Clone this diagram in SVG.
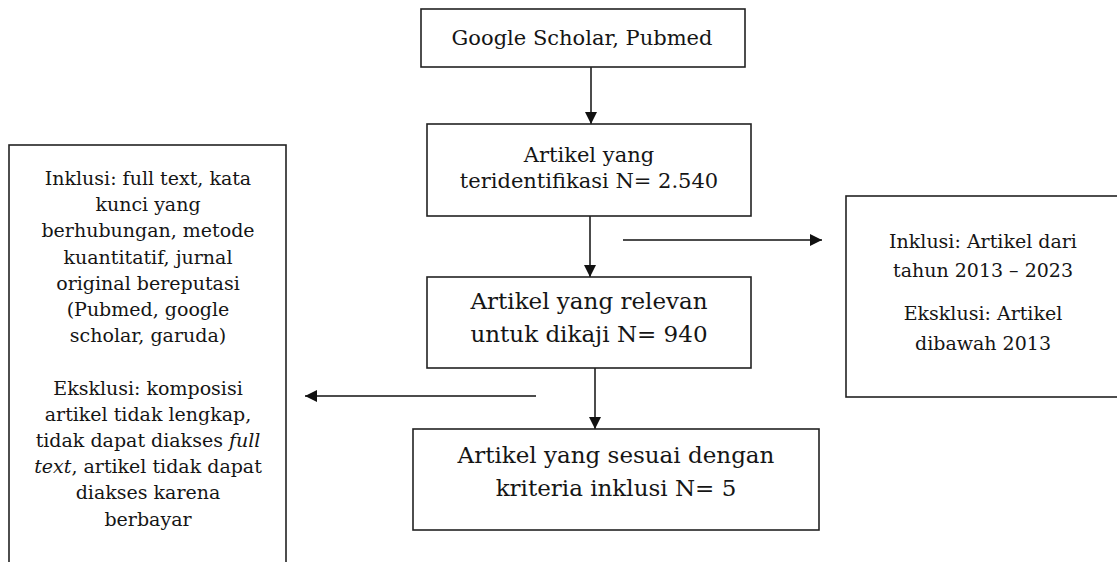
<svg xmlns="http://www.w3.org/2000/svg" width="1117" height="562" viewBox="0 0 1117 562">
<style>
.box{fill:#fff;stroke:#222;stroke-width:1.6}
.t{font-family:"DejaVu Serif","Liberation Serif",serif;fill:#151515;text-anchor:middle}
.s{font-size:19px}
.m{font-size:21px}
.l{font-size:23px}
.c{stroke:#111;stroke-width:1.5;fill:none;marker-end:url(#ah)}
</style>
<defs>
<marker id="ah" markerWidth="12" markerHeight="12" refX="12" refY="6" orient="auto" markerUnits="userSpaceOnUse">
<path d="M0,0 L12,6 L0,12 Z" fill="#111"/>
</marker>
</defs>
<rect width="1117" height="562" fill="#fff"/>
<g id="connectors">
<line class="c" x1="591" y1="67" x2="591" y2="124"/>
<line class="c" x1="590" y1="216" x2="590" y2="277"/>
<line class="c" x1="595" y1="368" x2="595" y2="429"/>
<line class="c" x1="623" y1="240" x2="822" y2="240"/>
<line class="c" x1="536" y1="396" x2="305" y2="396"/>
</g>
<g id="n1">
<rect class="box" x="421" y="9" width="324" height="58"/>
<text class="t m" x="582" y="45">Google Scholar, Pubmed</text>
</g>
<g id="n2">
<rect class="box" x="427" y="124" width="324" height="92"/>
<text class="t m" x="589" y="162">Artikel yang</text>
<text class="t m" x="589" y="188">teridentifikasi N= 2.540</text>
</g>
<g id="n3">
<rect class="box" x="427" y="277" width="324" height="91"/>
<text class="t l" x="589" y="309">Artikel yang relevan</text>
<text class="t l" x="589" y="342">untuk dikaji N= 940</text>
</g>
<g id="n4">
<rect class="box" x="413" y="429" width="406" height="101"/>
<text class="t l" x="616" y="463">Artikel yang sesuai dengan</text>
<text class="t l" x="616" y="496">kriteria inklusi N= 5</text>
</g>
<g id="n5">
<rect class="box" x="9" y="145" width="277" height="430"/>
<text class="t s" x="148" y="185">Inklusi: full text, kata</text>
<text class="t s" x="148" y="211">kunci yang</text>
<text class="t s" x="148" y="237">berhubungan, metode</text>
<text class="t s" x="148" y="264">kuantitatif, jurnal</text>
<text class="t s" x="148" y="290">original bereputasi</text>
<text class="t s" x="148" y="316">(Pubmed, google</text>
<text class="t s" x="148" y="342">scholar, garuda)</text>
<text class="t s" x="148" y="395">Eksklusi: komposisi</text>
<text class="t s" x="148" y="421">artikel tidak lengkap,</text>
<text class="t s" x="148" y="447">tidak dapat diakses <tspan font-style="italic">full</tspan></text>
<text class="t s" x="148" y="473"><tspan font-style="italic">text</tspan>, artikel tidak dapat</text>
<text class="t s" x="148" y="499">diakses karena</text>
<text class="t s" x="148" y="526">berbayar</text>
</g>
<g id="n6">
<rect class="box" x="846" y="196" width="290" height="201"/>
<text class="t s" x="983" y="248">Inklusi: Artikel dari</text>
<text class="t s" x="983" y="277">tahun 2013 – 2023</text>
<text class="t s" x="983" y="320">Eksklusi: Artikel</text>
<text class="t s" x="983" y="350">dibawah 2013</text>
</g>
</svg>
